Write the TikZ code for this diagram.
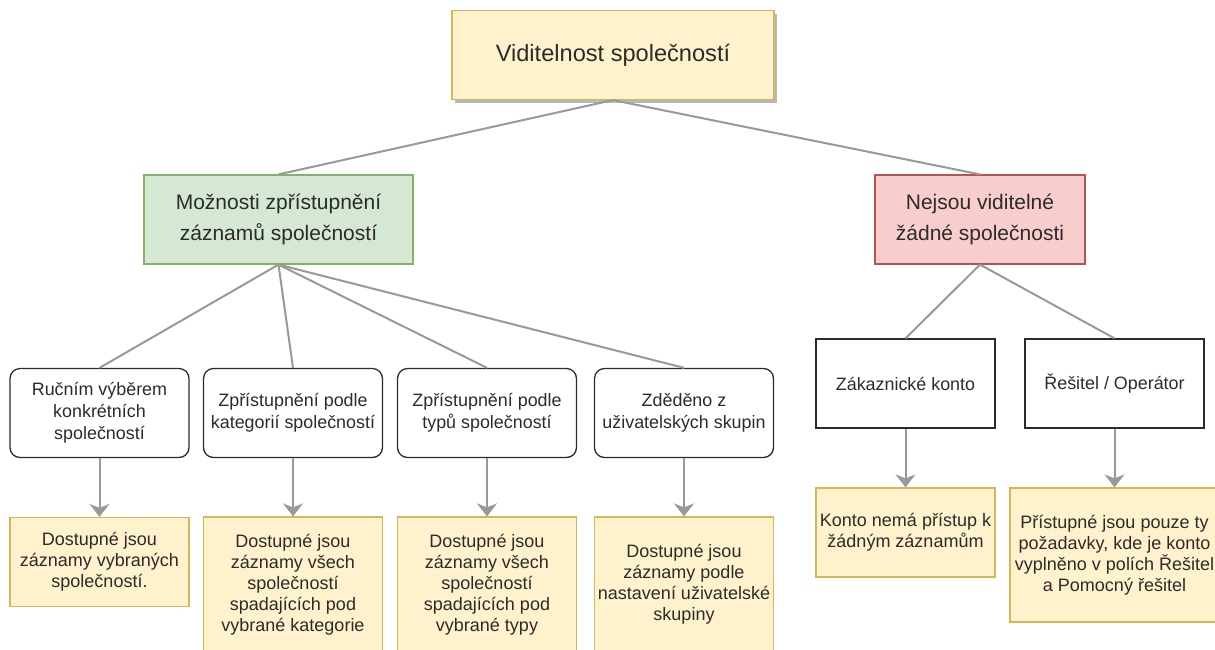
\documentclass[tikz,border=0pt]{standalone}
\usepackage{fontspec}
\setmainfont{Liberation Sans}
\usetikzlibrary{arrows.meta,shadows}

\definecolor{notefill}{HTML}{FFF2CC}
\definecolor{notedraw}{HTML}{D6B656}
\definecolor{okfill}{HTML}{D5E8D4}
\definecolor{okdraw}{HTML}{82B366}
\definecolor{nofill}{HTML}{F8CECC}
\definecolor{nodraw}{HTML}{B85450}
\definecolor{linkgray}{HTML}{999999}
\definecolor{ink}{HTML}{2B2B2B}

\tikzset{
  box/.style={rectangle, inner sep=0pt, align=center, text=ink,
    minimum width=179pt, minimum height=89pt},
  headbox/.style={box, fill=notefill, draw=notedraw, line width=1.2pt,
    minimum width=322pt, font=\fontsize{23.6}{28}\selectfont,
    drop shadow={shadow xshift=3pt, shadow yshift=-3pt, fill=black, opacity=0.28}},
  groupbox/.style={box, line width=1.2pt, font=\fontsize{21}{31}\selectfont},
  choice/.style={box, draw=ink, rounded corners=10pt, line width=1.3pt,
    font=\fontsize{17.9}{22}\selectfont},
  role/.style={box, draw=ink, line width=1.3pt, font=\fontsize{17.9}{22}\selectfont},
  result/.style={box, fill=notefill, draw=notedraw, line width=1.2pt,
    font=\fontsize{18}{21}\selectfont},
  link/.style={draw=linkgray, line width=2pt},
  flow/.style={link, -{Stealth[length=13pt, width=20pt, inset=4pt]}},
}

\begin{document}
\begin{tikzpicture}[x=1pt, y=-1pt]
  \useasboundingbox (0,0) rectangle (1215,649);

  % root
  \node[headbox] (root) at (613,55) {Viditelnost společností};

  % two branches
  \node[groupbox, fill=okfill, draw=okdraw, minimum width=269pt] (open) at (278.5,219.5)
    {Možnosti zpřístupnění\\záznamů společností};
  \node[groupbox, fill=nofill, draw=nodraw, minimum width=210pt] (none) at (980,219.5)
    {Nejsou viditelné\\žádné společnosti};

  % ways of granting access
  \node[choice] (manual) at (99.5,413) {Ručním výběrem\\konkrétních\\společností};
  \node[choice] (bycat)  at (293,413)  {Zpřístupnění podle\\kategorií společností};
  \node[choice] (bytype) at (487,413)  {Zpřístupnění podle\\typů společností};
  \node[choice] (bygrp)  at (684,413)  {Zděděno z\\uživatelských skupin};

  % account roles
  \node[role] (cust)   at (905.5,383.5)  {Zákaznické konto};
  \node[role] (solver) at (1114.5,383.5) {Řešitel / Operátor};

  % outcomes
  \node[result] (rmanual) at (99.5,562)
    {Dostupné jsou\\záznamy vybraných\\společností.};
  \node[result, minimum height=135pt] (rcat) at (293,584.5)
    {Dostupné jsou\\záznamy všech\\společností\\spadajících pod\\vybrané kategorie};
  \node[result, minimum height=135pt] (rtype) at (487,584.5)
    {Dostupné jsou\\záznamy všech\\společností\\spadajících pod\\vybrané typy};
  \node[result, minimum height=135pt] (rgrp) at (684,584.5)
    {Dostupné jsou\\záznamy podle\\nastavení uživatelské\\skupiny};
  \node[result] (rcust) at (905.5,532.5)
    {Konto nemá přístup k\\žádným záznamům};
  \node[result, minimum width=209pt, minimum height=134pt] (rsolver) at (1114.5,555)
    {Přístupné jsou pouze ty\\požadavky, kde je konto\\vyplněno v polích Řešitel\\a Pomocný řešitel};

  % tree links
  \draw[link] (root.south) -- (open.north);
  \draw[link] (root.south) -- (none.north);
  \foreach \n in {manual,bycat,bytype,bygrp}
    \draw[link] (open.south) -- (\n.north);
  \draw[link] (none.south) -- (cust.north);
  \draw[link] (none.south) -- (solver.north);

  % outcome arrows
  \draw[flow] (manual.south) -- (rmanual.north);
  \draw[flow] (bycat.south)  -- (rcat.north);
  \draw[flow] (bytype.south) -- (rtype.north);
  \draw[flow] (bygrp.south)  -- (rgrp.north);
  \draw[flow] (cust.south)   -- (rcust.north);
  \draw[flow] (solver.south) -- (rsolver.north);
\end{tikzpicture}
\end{document}
